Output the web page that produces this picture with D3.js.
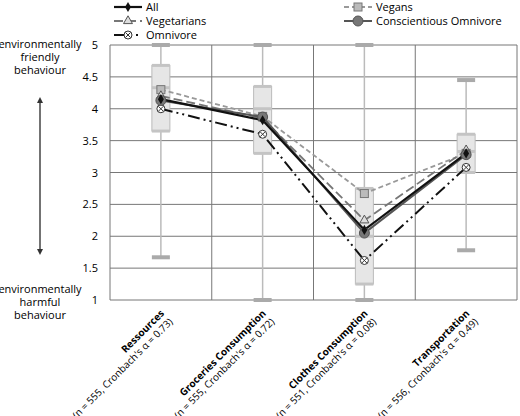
<!DOCTYPE html>
<html><head><meta charset="utf-8">
<script src="https://cdn.jsdelivr.net/npm/d3@7"></script>
<style>body{margin:0;background:#fff}text{font-family:"Open Sans",sans-serif}</style>
</head><body><svg id="c" width="520" height="416"></svg>
<script>
const categories = ["Ressources", "Groceries Consumption", "Clothes Consumption", "Transportation"];
const subLabels = ["(n = 555, Cronbach's α = 0.73)", "(n = 555, Cronbach's α = 0.72)", "(n = 551, Cronbach's α = 0.08)", "(n = 556, Cronbach's α = 0.49)"];
const whiskerLow = [1.67, 1, 1, 1.78];
const whiskerHigh = [5, 5, 5, 4.45];
const q1 = [3.65, 3.3, 1.25, 3.0];
const median = [4.33, 4.0, 2.0, 3.33];
const q3 = [4.68, 4.35, 2.75, 3.6];
const yTicks = [1, 1.5, 2, 2.5, 3, 3.5, 4, 4.5, 5];
const seriesNames = ["All", "Vegans", "Vegetarians", "Conscientious Omnivore", "Omnivore"];
const allMeans = [4.15, 3.82, 2.1, 3.3];
const veganMeans = [4.3, 3.88, 2.67, 3.3];
const vegetarianMeans = [4.2, 3.85, 2.25, 3.35];
const conscientiousMeans = [4.13, 3.87, 2.05, 3.28];
const omnivoreMeans = [4.0, 3.6, 1.62, 3.08];

const series = [
  { name: "All", values: allMeans, color: "#111", width: 2.2, dash: null, marker: "diamond" },
  { name: "Vegans", values: veganMeans, color: "#999", width: 1.8, dash: "5,3", marker: "square" },
  { name: "Vegetarians", values: vegetarianMeans, color: "#777", width: 1.8, dash: "9,4", marker: "triangle" },
  { name: "Conscientious Omnivore", values: conscientiousMeans, color: "#555", width: 2, dash: null, marker: "circle" },
  { name: "Omnivore", values: omnivoreMeans, color: "#111", width: 2, dash: "12,4,2,4,2,4", marker: "xcircle" },
];

const svg = d3.select("#c");
const plotLeft = 110, plotRight = 517, plotTop = 45, plotBottom = 300;
const x = d3.scaleBand().domain(categories).range([plotLeft, plotRight]);
const y = d3.scaleLinear().domain([1, 5]).range([plotBottom, plotTop]);
const cx = (i) => x(categories[i]) + x.bandwidth() / 2;

// gridlines
svg.append("g").selectAll("line").data(yTicks).join("line")
  .attr("x1", plotLeft).attr("x2", plotRight).attr("y1", y).attr("y2", y)
  .attr("stroke", "#777").attr("stroke-width", 1);
svg.append("g").selectAll("line").data(categories.slice(1).concat([null])).join("line")
  .attr("x1", (d) => d ? x(d) : plotRight).attr("x2", (d) => d ? x(d) : plotRight)
  .attr("y1", plotTop).attr("y2", plotBottom).attr("stroke", "#777");
svg.append("line").attr("x1", plotLeft).attr("x2", plotLeft).attr("y1", plotTop).attr("y2", plotBottom).attr("stroke", "#777");

// y axis labels
svg.append("g").selectAll("text").data(yTicks).join("text")
  .attr("x", plotLeft - 12).attr("y", (d) => y(d) + 4).attr("text-anchor", "end")
  .attr("font-size", 11).text((d) => d);

// box plots
const bw = 18;
const boxes = svg.append("g");
categories.forEach((c, i) => {
  const g = boxes.append("g");
  g.append("line").attr("x1", cx(i)).attr("x2", cx(i)).attr("y1", y(whiskerLow[i])).attr("y2", y(whiskerHigh[i]))
    .attr("stroke", "#bbb").attr("stroke-width", 1.5);
  [whiskerLow[i], whiskerHigh[i]].forEach((v) =>
    g.append("rect").attr("x", cx(i) - 9).attr("y", y(v) - 2).attr("width", 18).attr("height", 4).attr("fill", "#aaa"));
  g.append("rect").attr("x", cx(i) - bw / 2).attr("y", y(q3[i])).attr("width", bw).attr("height", y(q1[i]) - y(q3[i]))
    .attr("fill", "#e6e6e6").attr("stroke", "#bbb");
  [q1[i], median[i], q3[i]].forEach((v) =>
    g.append("rect").attr("x", cx(i) - bw / 2).attr("y", y(v) - 1.5).attr("width", bw).attr("height", 3).attr("fill", "#c4c4c4"));
});

// marker drawing
function drawMarker(g, type, px, py, color) {
  if (type === "diamond") g.append("path").attr("d", d3.symbol(d3.symbolDiamond, 30)()).attr("transform", `translate(${px},${py})`).attr("fill", color);
  if (type === "square") g.append("rect").attr("x", px - 4).attr("y", py - 4).attr("width", 8).attr("height", 8).attr("fill", "#bbb").attr("stroke", "#777");
  if (type === "triangle") g.append("path").attr("d", d3.symbol(d3.symbolTriangle, 35)()).attr("transform", `translate(${px},${py})`).attr("fill", "#ddd").attr("stroke", "#555");
  if (type === "circle") g.append("circle").attr("cx", px).attr("cy", py).attr("r", 5).attr("fill", "#777").attr("stroke", "#555");
  if (type === "xcircle") {
    g.append("circle").attr("cx", px).attr("cy", py).attr("r", 4).attr("fill", "#fff").attr("stroke", "#333");
    g.append("path").attr("d", `M${px - 2.5},${py - 2.5}L${px + 2.5},${py + 2.5}M${px + 2.5},${py - 2.5}L${px - 2.5},${py + 2.5}`).attr("stroke", "#333");
  }
}

// series lines
const line = d3.line().x((d, i) => cx(i)).y((d) => y(d));
const drawOrder = [4, 1, 2, 3, 0];
drawOrder.forEach((k) => {
  const s = series[k];
  svg.append("path").datum(s.values).attr("d", line).attr("fill", "none")
    .attr("stroke", s.color).attr("stroke-width", s.width).attr("stroke-dasharray", s.dash);
});
drawOrder.forEach((k) => {
  const s = series[k];
  s.values.forEach((v, i) => drawMarker(svg, s.marker, cx(i), y(v), s.color));
});

// legend
const legendPos = [[146, 7], [376, 7], [146, 21], [376, 21], [146, 35]];
series.forEach((s, k) => {
  const [lx, ly] = legendPos[k];
  const g = svg.append("g");
  g.append("line").attr("x1", lx - 32).attr("x2", lx - 4).attr("y1", ly).attr("y2", ly)
    .attr("stroke", s.color).attr("stroke-width", s.width).attr("stroke-dasharray", s.dash);
  drawMarker(g, s.marker, lx - 18, ly, s.color);
  g.append("text").attr("x", lx).attr("y", ly + 4).attr("font-size", 11).text(seriesNames[k]);
});

// category labels
categories.forEach((c, i) => {
  const t = svg.append("text").attr("transform", `translate(${cx(i) + 4},${plotBottom + 14}) rotate(-45)`)
    .attr("text-anchor", "end").attr("font-size", 10);
  t.append("tspan").attr("x", 0).attr("dy", 0).attr("font-weight", "bold").text(c);
  t.append("tspan").attr("x", 0).attr("dy", 12).text(subLabels[i]);
});

// left annotations
const ann = svg.append("g").attr("font-size", 11).attr("text-anchor", "middle");
[["environmentally", 48], ["friendly", 61], ["behaviour", 74]].forEach(([t, yy]) => ann.append("text").attr("x", 40).attr("y", yy).text(t));
[["environmentally", 293], ["harmful", 306], ["behaviour", 319]].forEach(([t, yy]) => ann.append("text").attr("x", 40).attr("y", yy).text(t));
svg.append("defs").append("marker").attr("id", "ah").attr("viewBox", "0 0 10 10").attr("refX", 5).attr("refY", 5)
  .attr("markerWidth", 4).attr("markerHeight", 4).attr("orient", "auto-start-reverse")
  .append("path").attr("d", "M0,0L10,5L0,10z").attr("fill", "#333");
svg.append("line").attr("x1", 40).attr("x2", 40).attr("y1", 100).attr("y2", 252)
  .attr("stroke", "#444").attr("stroke-width", 1.5).attr("marker-start", "url(#ah)").attr("marker-end", "url(#ah)");
</script></body></html>
